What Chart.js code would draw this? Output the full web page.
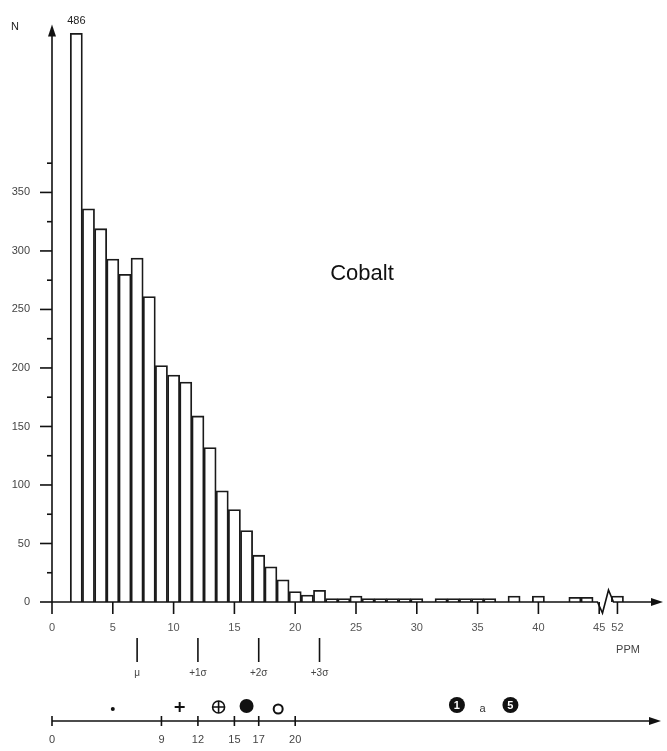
<!DOCTYPE html>
<html>
<head>
<meta charset="utf-8">
<script src="https://cdn.jsdelivr.net/npm/chart.js@4/dist/chart.umd.min.js"></script>
<style>
  body { margin: 0; background: #fff; }
  canvas { display: block; }
</style>
</head>
<body>
<canvas id="cobaltChart" width="667" height="751"></canvas>
<script>
// histogram bins (ppm) and counts
const ppm = [2, 3, 4, 5, 6, 7, 8, 9, 10, 11, 12, 13, 14, 15, 16, 17, 18, 19, 20, 21, 22,
  23, 24, 25, 26, 27, 28, 29, 30, 31, 32, 33, 34, 35, 36, 37, 38, 39, 40, 41, 42, 43, 44, 52];
const counts = [486, 336, 319, 293, 280, 294, 261, 202, 194, 188, 159, 132, 95, 79, 61, 40, 30, 19, 9, 6, 10,
  3, 3, 5, 3, 3, 3, 3, 3, 0, 3, 3, 3, 3, 3, 0, 5, 0, 5, 0, 0, 4, 4, 5];
const xTickValues = [0, 5, 10, 15, 20, 25, 30, 35, 40, 45, 52];
const yTickValues = [0, 50, 100, 150, 200, 250, 300, 350];

// mean and sigma marks
const mu = 7;
const sigma = 5;
const sigmaLabels = ['\u03bc', '+1\u03c3', '+2\u03c3', '+3\u03c3'];

// lower scale: ticks and class symbols
const lowerTicks = [0, 9, 12, 15, 17, 20];
const symbolKinds = ['dot', 'plus', 'oplus', 'disc', 'ring', 'one', 'a', 'five'];
const symbolPos = [5, 10.5, 13.7, 16, 18.6, 33.3, 35.4, 37.7];

// axis break: values beyond 45 are pulled left
const breakAt = 45;
const breakShift = 5.5;
const pos = v => (v > breakAt ? v - breakShift : v);

const FONT = '"Liberation Sans", Arial, sans-serif';

const extras = {
  id: 'extras',
  afterDraw(chart) {
    const { ctx, chartArea: a, scales: { x, y } } = chart;
    const y0 = y.getPixelForValue(0);
    ctx.save();
    ctx.strokeStyle = '#111';
    ctx.fillStyle = '#111';
    ctx.lineWidth = 1.6;

    // y axis + arrow
    ctx.beginPath();
    ctx.moveTo(a.left, y0);
    ctx.lineTo(a.left, a.top + 6);
    ctx.stroke();
    ctx.beginPath();
    ctx.moveTo(a.left, a.top - 4);
    ctx.lineTo(a.left - 4, a.top + 8);
    ctx.lineTo(a.left + 4, a.top + 8);
    ctx.closePath();
    ctx.fill();
    for (let v = 0; v <= 375; v += 25) {
      const py = y.getPixelForValue(v);
      ctx.beginPath();
      ctx.moveTo(v % 50 === 0 ? a.left - 12 : a.left - 5, py);
      ctx.lineTo(a.left, py);
      ctx.stroke();
    }

    // x axis with break + arrow
    const xb = x.getPixelForValue(breakAt + 0.6);
    ctx.beginPath();
    ctx.moveTo(a.left, y0);
    ctx.lineTo(xb - 9, y0);
    ctx.lineTo(xb - 4, y0 + 11);
    ctx.lineTo(xb + 2, y0 - 12);
    ctx.lineTo(xb + 7, y0);
    ctx.lineTo(a.right - 6, y0);
    ctx.stroke();
    ctx.beginPath();
    ctx.moveTo(a.right + 3, y0);
    ctx.lineTo(a.right - 9, y0 - 4);
    ctx.lineTo(a.right - 9, y0 + 4);
    ctx.closePath();
    ctx.fill();
    xTickValues.forEach(v => {
      const px = x.getPixelForValue(pos(v));
      ctx.beginPath();
      ctx.moveTo(px, y0);
      ctx.lineTo(px, y0 + 12);
      ctx.stroke();
    });

    // texts
    ctx.font = '11px ' + FONT;
    ctx.textAlign = 'center';
    ctx.textBaseline = 'middle';
    ctx.fillStyle = '#222';
    ctx.fillText('N', 15, 27);
    const top = chart.getDatasetMeta(0).data[0];
    ctx.fillText(String(counts[0]), top.x, top.y - 12);
    ctx.fillStyle = '#444';
    ctx.fillText('PPM', 628, 650);
    ctx.fillStyle = '#111';
    ctx.font = '22px ' + FONT;
    ctx.fillText('Cobalt', 362, 274);

    // mu / sigma marks
    ctx.lineWidth = 1.6;
    ctx.font = '10px ' + FONT;
    ctx.fillStyle = '#444';
    sigmaLabels.forEach((lbl, i) => {
      const px = x.getPixelForValue(mu + i * sigma);
      ctx.beginPath();
      ctx.moveTo(px, 638);
      ctx.lineTo(px, 662);
      ctx.stroke();
      ctx.fillText(lbl, px, 673);
    });

    // lower scale
    const ly = 721;
    ctx.beginPath();
    ctx.moveTo(a.left, ly);
    ctx.lineTo(a.right - 6, ly);
    ctx.stroke();
    ctx.beginPath();
    ctx.moveTo(a.right + 1, ly);
    ctx.lineTo(a.right - 11, ly - 4);
    ctx.lineTo(a.right - 11, ly + 4);
    ctx.closePath();
    ctx.fillStyle = '#111';
    ctx.fill();
    ctx.font = '11px ' + FONT;
    lowerTicks.forEach(v => {
      const px = x.getPixelForValue(v);
      ctx.fillStyle = '#111';
      ctx.beginPath();
      ctx.moveTo(px, ly - 5);
      ctx.lineTo(px, ly + 5);
      ctx.stroke();
      ctx.fillStyle = '#444';
      ctx.fillText(String(v), px, 740);
    });

    // symbols
    symbolKinds.forEach((kind, i) => {
      const px = x.getPixelForValue(symbolPos[i]);
      ctx.fillStyle = '#111';
      ctx.strokeStyle = '#111';
      ctx.lineWidth = 2;
      if (kind === 'dot') {
        ctx.beginPath(); ctx.arc(px, 709, 2, 0, Math.PI * 2); ctx.fill();
      } else if (kind === 'plus') {
        ctx.beginPath();
        ctx.moveTo(px - 5, 707); ctx.lineTo(px + 5, 707);
        ctx.moveTo(px, 702); ctx.lineTo(px, 712);
        ctx.stroke();
      } else if (kind === 'oplus') {
        ctx.lineWidth = 1.6;
        ctx.beginPath(); ctx.arc(px, 707, 6, 0, Math.PI * 2); ctx.stroke();
        ctx.beginPath();
        ctx.moveTo(px - 6, 707); ctx.lineTo(px + 6, 707);
        ctx.moveTo(px, 701); ctx.lineTo(px, 713);
        ctx.stroke();
      } else if (kind === 'disc') {
        ctx.beginPath(); ctx.arc(px, 706, 7, 0, Math.PI * 2); ctx.fill();
      } else if (kind === 'ring') {
        ctx.beginPath(); ctx.arc(px, 709, 4.5, 0, Math.PI * 2); ctx.stroke();
      } else if (kind === 'a') {
        ctx.font = '11px ' + FONT;
        ctx.fillStyle = '#333';
        ctx.fillText('a', px, 709);
      } else {
        ctx.beginPath(); ctx.arc(px, 705, 8, 0, Math.PI * 2); ctx.fill();
        ctx.fillStyle = '#fff';
        ctx.font = 'bold 11px ' + FONT;
        ctx.fillText(kind === 'one' ? '1' : '5', px, 706);
      }
    });
    ctx.restore();
  }
};

new Chart(document.getElementById('cobaltChart'), {
  type: 'bar',
  data: {
    datasets: [{
      data: ppm.map((v, i) => ({ x: pos(v), y: counts[i] })),
      backgroundColor: '#fff',
      borderColor: '#1a1a1a',
      borderWidth: 1.8,
      barPercentage: 1,
      categoryPercentage: 1
    }]
  },
  options: {
    responsive: false,
    animation: false,
    layout: { padding: { top: 12, right: 7, left: 0, bottom: 0 } },
    scales: {
      x: {
        type: 'linear',
        offset: false,
        min: 0,
        max: 50,
        afterBuildTicks: s => { s.ticks = xTickValues.map(v => ({ value: pos(v) })); },
        afterFit: s => { s.height = 149; },
        grid: { display: false, drawTicks: false, offset: false },
        border: { display: false },
        ticks: {
          autoSkip: false,
          maxRotation: 0,
          padding: 19,
          color: '#555',
          font: { family: FONT, size: 11 },
          callback: (v, i) => String(xTickValues[i])
        }
      },
      y: {
        min: 0,
        max: 490,
        afterBuildTicks: s => { s.ticks = yTickValues.map(v => ({ value: v })); },
        afterFit: s => { s.width = 52; },
        grid: { display: false, drawTicks: false },
        border: { display: false },
        ticks: {
          padding: 22,
          color: '#444',
          font: { family: FONT, size: 11 }
        }
      }
    },
    plugins: {
      legend: { display: false },
      tooltip: { enabled: false }
    }
  },
  plugins: [extras]
});
</script>
</body>
</html>
